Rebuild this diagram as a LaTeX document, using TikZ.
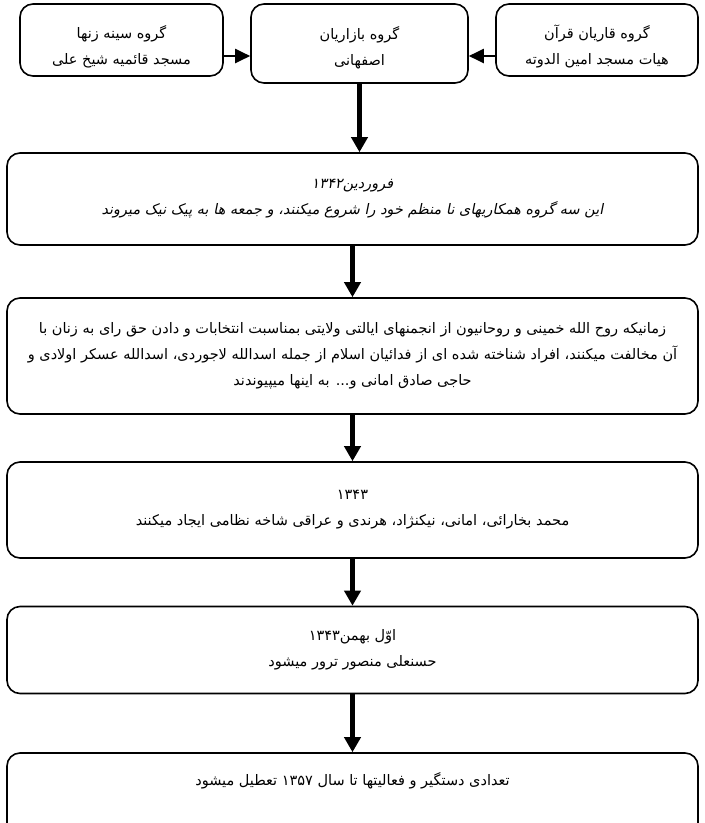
\documentclass[tikz,border=0pt]{standalone}
\usepackage{fontspec}
\usetikzlibrary{arrows.meta}
\TeXXeTstate=1
\newfontfamily\farsi[Script=Arabic]{DejaVu Sans}
\newfontfamily\farsislant[Script=Arabic,FakeSlant=0.2]{DejaVu Sans}
\newcommand{\fa}[1]{\beginR #1\endR}
\newcommand{\boxsize}{\fontsize{14.5}{26}\selectfont}

\begin{document}
\begin{tikzpicture}[x=1pt,y=-1pt,
    box/.style={draw,line width=1.6pt,rounded corners=13pt,align=center,
        inner sep=0pt,font=\farsi\boxsize},
    wide/.style={box,minimum width=691pt},
    flow/.style={line width=4.5pt,-{Triangle[width=16pt,length=15pt]}},
    side/.style={line width=2pt,-{Triangle[width=14pt,length=15pt]}}]
    \useasboundingbox (0,0) rectangle (705,823);
    \clip (0,0) rectangle (705,823);
    % top row
    \node[box,minimum width=203pt,minimum height=72pt] (sine) at (121.5,40)
        {\rule{0pt}{26pt}\fa{گروه سینه زنها}\\ \fa{مسجد قائمیه شیخ علی}};
    \node[box,minimum width=217pt,minimum height=79pt] (bazar) at (359.5,43.5)
        {\rule{0pt}{22pt}\fa{گروه بازاریان}\\ \fa{اصفهانی}};
    \node[box,minimum width=202pt,minimum height=72pt] (qari) at (597,40)
        {\rule{0pt}{26pt}\fa{گروه قاریان قرآن}\\ \fa{هیات مسجد امین الدوته}};
    \coordinate (row) at (0,56);
    \draw[side] (sine.east |- row) -- (bazar.west |- row);
    \draw[side] (qari.west |- row) -- (bazar.east |- row);
    % time line
    \node[wide,minimum height=92pt,font=\farsislant\boxsize] (farvardin) at (352.5,199)
        {\fa{فروردین۱۳۴۲}\\
         \fa{این سه گروه همکاریهای نا منظم خود را شروع میکنند، و جمعه ها به پیک نیک میروند}};
    \node[wide,minimum height=116pt] (khomeini) at (352.5,356)
        {\fa{زمانیکه روح الله خمینی و روحانیون از انجمنهای ایالتی ولایتی بمناسبت انتخابات و دادن حق رای به زنان با}\\
         \fa{آن مخالفت میکنند، افراد شناخته شده ای از فدائیان اسلام از جمله اسدالله لاجوردی، اسدالله عسکر اولادی و}\\
         \fa{حاجی صادق امانی و... به اینها میپیوندند}};
    \node[wide,minimum height=96pt] (shakhe) at (352.5,510)
        {\fa{۱۳۴۳}\\
         \fa{محمد بخارائی، امانی، نیکنژاد، هرندی و عراقی شاخه نظامی ایجاد  میکنند}};
    \node[wide,minimum height=87pt] (bahman) at (352.5,650)
        {\fa{اوّل بهمن۱۳۴۳}\\ \fa{حسنعلی منصور ترور میشود}};
    \node[wide,anchor=base,text height=32pt,text depth=62pt] (tatil) at (352.5,785)
        {\fa{تعدادی دستگیر و فعالیتها تا سال ۱۳۵۷ تعطیل میشود}};
    \draw[flow] (bazar.south) -- (bazar.south |- farvardin.north);
    \foreach \a/\b in {farvardin/khomeini,khomeini/shakhe,shakhe/bahman,bahman/tatil}{
        \draw[flow] (\a.south) -- (\b.north);
    }
\end{tikzpicture}
\end{document}
